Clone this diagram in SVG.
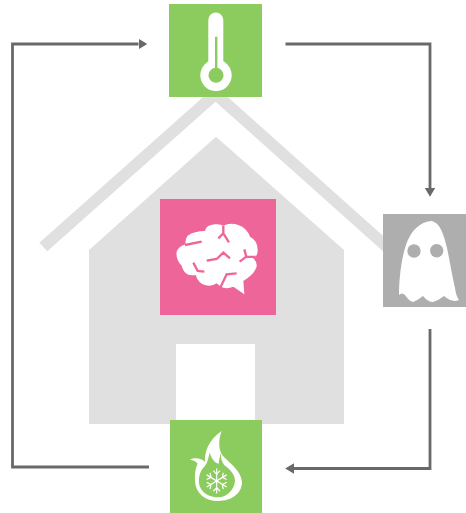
<svg xmlns="http://www.w3.org/2000/svg" width="466" height="513" viewBox="0 0 466 513">
  <style>
    .house{fill:#e0e0e0}
    .green{fill:#8ccb5e}
    .conn{fill:none;stroke:#696969;stroke-width:2.8;marker-end:url(#head)}
    .cut{fill:none;stroke:#ee6699;stroke-width:7;stroke-linejoin:miter}
    .flake{fill:none;stroke:#fff;stroke-width:3.5}
  </style>
  <defs>
    <marker id="head" markerUnits="userSpaceOnUse" markerWidth="9" markerHeight="12" refX="0" refY="6" orient="auto">
      <path d="M0 0.8L8.8 6L0 11.2Z" fill="#696969"/>
    </marker>
  </defs>
  <rect width="466" height="513" fill="#fff"/>
  <g id="house">
    <polygon class="house" points="39.3,242.7 215.5,86 395,246.6 395,262 215.5,101.7 47.3,251.3"/>
    <polygon class="house" points="216,136.7 344,250 344,424 89,424 89,250"/>
    <rect x="176" y="344" width="79" height="78" fill="#fff"/>
  </g>
  <g id="connectors">
    <path class="conn" d="M149 467H12.5V44H138.5"/>
    <path class="conn" d="M285.5 44H430V188"/>
    <path class="conn" d="M430 329V468.5H294"/>
  </g>
  <g id="thermometer">
    <rect class="green" x="169" y="4" width="93" height="93"/>
    <path d="M208.3 20a7.5 7.5 0 0 1 15 0V62H208.3Z" fill="#fff"/>
    <circle cx="216" cy="75.3" r="15.7" fill="#fff"/>
    <circle cx="216" cy="75.3" r="7.5" fill="#8ccb5e"/>
    <rect x="215" y="36.7" width="2.4" height="33" fill="#8ccb5e"/>
  </g>
  <g id="brain">
    <rect x="160" y="199" width="116" height="116" fill="#ee6699"/>
    <g transform="translate(155 195) scale(0.3333)">
      <path fill="#fff" d="M98 122Q118 108 150 108Q152 90 180 88Q195 86 205 92Q225 82 250 90Q275 98 285 125Q308 135 308 170Q306 185 295 190Q310 205 303 220Q295 240 265 258L268 298L235 275Q218 282 205 278Q195 275 185 265Q170 276 150 270Q130 265 122 240Q95 245 85 225Q80 215 80 212Q62 195 65 170Q70 155 92 148Q90 132 98 122Z"/>
      <path class="cut" d="M90 150L140 140"/>
      <path class="cut" d="M190 130L205 115V92M205 115L222 142"/>
      <path class="cut" d="M155 197L185 192L205 173L225 190"/>
      <path class="cut" d="M115 203L128 228L148 230"/>
      <path class="cut" d="M195 280L215 238L245 235"/>
      <path class="cut" d="M268 163L274 185L254 200M274 185L302 186"/>
    </g>
  </g>
  <g id="ghost">
    <rect x="383" y="214" width="83" height="93" fill="#aeaeae"/>
    <path fill="#fff" d="M431 221C420 222 412 230 407 242C401 258 399 280 399 295Q402 292 405 295Q409 301 413 302Q418 300 423 296Q428 302 433 302Q439 300 444 296Q452 303 459 300Q456 296 455 288C452 275 450 262 447 248C444 235 440 222 431 221Z"/>
    <circle cx="414" cy="251" r="6.7" fill="#aeaeae"/>
    <circle cx="436.7" cy="250.7" r="6.7" fill="#aeaeae"/>
  </g>
  <g id="flame">
    <rect class="green" x="170" y="420" width="92" height="93"/>
    <g transform="translate(185 427.4) scale(0.3333 0.357)">
      <path fill="#fff" d="M110 10C100 35 100 60 112 78C130 98 170 120 171 155C170 185 140 206 100 206C60 206 32 185 30 150C29 130 32 112 38 102C34 96 25 92 15 90C28 84 48 84 60 97C58 70 70 35 110 10Z"/>
      <path fill="#8ccb5e" d="M74 70C70 85 68 100 58 110C44 122 38 145 44 165C52 185 75 196 100 196C125 196 148 175 150 150C150 130 132 115 118 106C110 95 107 85 108 70C103 85 102 95 101 102C92 100 80 90 74 70Z"/>
      <g class="flake" transform="translate(95 150)">
        <path d="M0 -35V35M-30 -17L30 17M-30 17L30 -17"/>
        <path d="M-10 -29L0 -19L10 -29M-10 29L0 19L10 29M-30 -4L-17 -10L-20 -23M30 4L17 10L20 23M-30 4L-17 10L-20 23M30 -4L17 -10L20 -23"/>
      </g>
    </g>
  </g>
</svg>
